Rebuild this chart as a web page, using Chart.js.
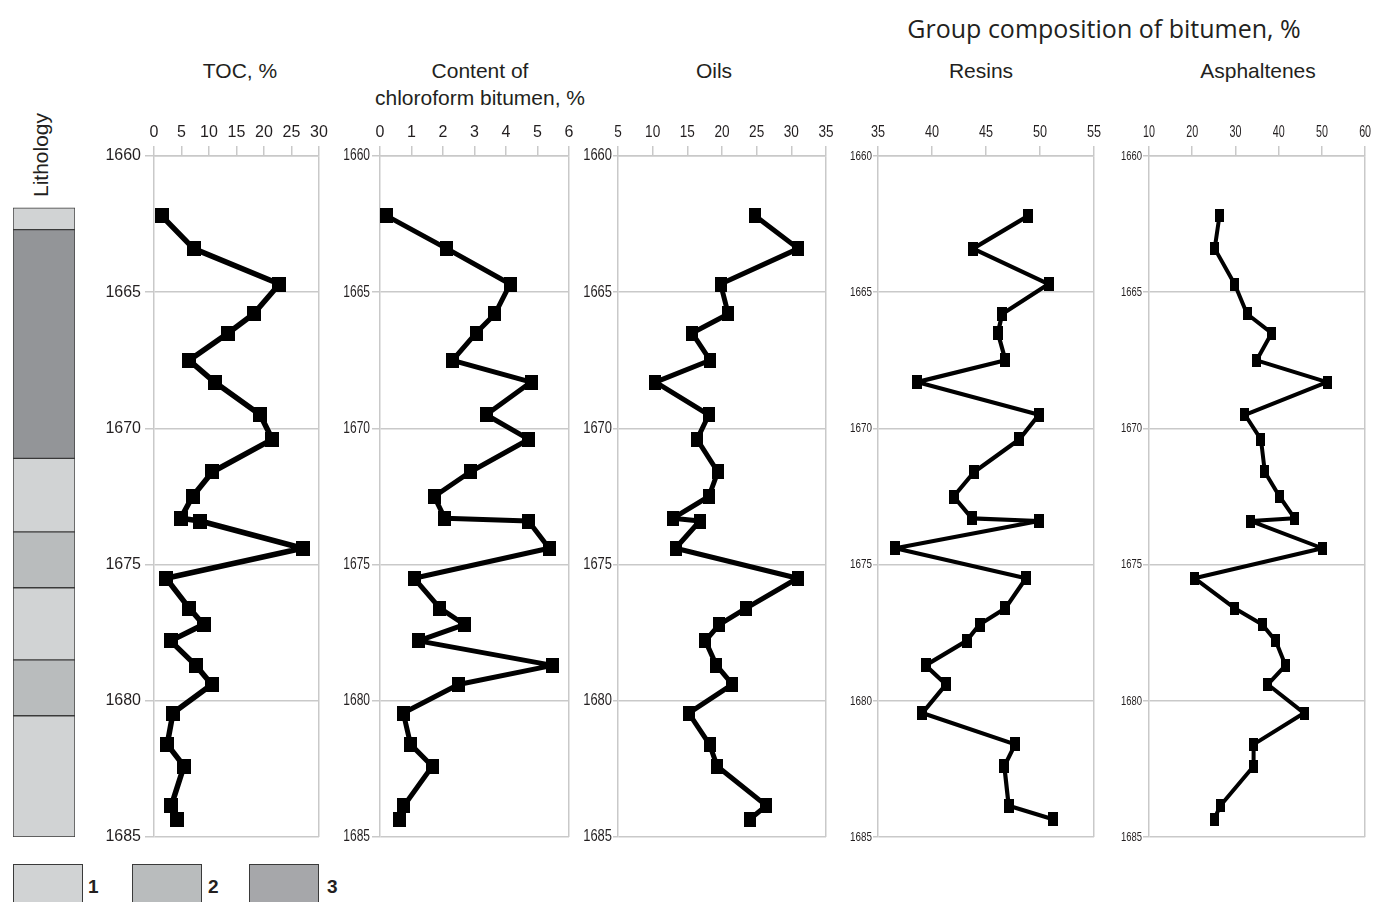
<!DOCTYPE html>
<html><head><meta charset="utf-8">
<script src="https://cdn.jsdelivr.net/npm/chart.js@4/dist/chart.umd.min.js"></script>
<style>
html,body{margin:0;padding:0;background:#fff;overflow:hidden;width:1373px;height:902px;}
body{position:relative;font-family:"Liberation Sans",Arial,sans-serif;color:#231f20;}
canvas{position:absolute;}
.t{position:absolute;white-space:nowrap;transform:translate(-50%,-50%);font-size:21px;line-height:27px;text-align:center;}
.hdr{position:absolute;white-space:nowrap;transform:translate(-50%,-50%);font-family:"Open Sans",sans-serif;font-size:25px;color:#231f20;}
.lith{position:absolute;white-space:nowrap;transform:translate(-50%,-50%) rotate(-90deg);font-size:21px;}
.lb{position:absolute;width:68px;height:40px;border:1.5px solid #3a3a3a;top:864px;}
.ll{position:absolute;font-weight:bold;font-size:19px;transform:translateY(-50%);top:887px;}
</style></head><body>
<div class="hdr" style="left:1104px;top:28px;">Group composition of bitumen, %</div>
<div class="t" style="left:240px;top:70px;">TOC, %</div>
<div class="t" style="left:480px;top:84px;">Content of<br>chloroform bitumen, %</div>
<div class="t" style="left:714px;top:70px;">Oils</div>
<div class="t" style="left:981px;top:70px;">Resins</div>
<div class="t" style="left:1258px;top:70px;">Asphaltenes</div>
<div class="lith" style="left:41px;top:155px;">Lithology</div>
<div class="lb" style="left:13px;background:#d1d3d4;"></div><div class="ll" style="left:88px;">1</div>
<div class="lb" style="left:132px;background:#b9bcbd;"></div><div class="ll" style="left:208px;">2</div>
<div class="lb" style="left:249px;background:#a6a7aa;"></div><div class="ll" style="left:327px;">3</div>

<canvas id="lit"></canvas>
<canvas id="c_toc"></canvas>
<canvas id="c_bit"></canvas>
<canvas id="c_oil"></canvas>
<canvas id="c_res"></canvas>
<canvas id="c_asp"></canvas>
<script>
// ---- data ----
const depth = [1662.2, 1663.4, 1664.7, 1665.8, 1666.5, 1667.5, 1668.3, 1669.5, 1670.4, 1671.6, 1672.5, 1673.3, 1673.4, 1674.4, 1675.5, 1676.6, 1677.2, 1677.8, 1678.7, 1679.4, 1680.45, 1681.6, 1682.4, 1683.85, 1684.35];
const toc = [1.4, 7.2, 22.8, 18.1, 13.5, 6.4, 11.0, 19.3, 21.5, 10.6, 7.0, 4.85, 8.4, 27.0, 2.2, 6.4, 9.0, 3.0, 7.6, 10.5, 3.45, 2.4, 5.45, 3.15, 4.25];
const bitumen = [0.21, 2.12, 4.13, 3.65, 3.05, 2.3, 4.8, 3.37, 4.73, 2.86, 1.72, 2.06, 4.71, 5.37, 1.08, 1.9, 2.68, 1.22, 5.48, 2.49, 0.74, 0.97, 1.66, 0.76, 0.63];
const oils = [24.8, 31.0, 19.8, 20.9, 15.7, 18.3, 10.4, 18.1, 16.4, 19.4, 18.1, 12.9, 16.8, 13.3, 30.9, 23.5, 19.6, 17.6, 19.2, 21.5, 15.2, 18.2, 19.3, 26.4, 24.0];
const resins = [48.9, 43.8, 50.8, 46.5, 46.1, 46.8, 38.6, 49.9, 48.1, 43.9, 42.0, 43.7, 49.9, 36.6, 48.7, 46.8, 44.4, 43.2, 39.4, 41.3, 39.1, 47.7, 46.7, 47.1, 51.2];
const asphaltenes = [26.3, 25.2, 29.8, 32.7, 38.4, 34.9, 51.2, 32.2, 35.9, 36.8, 40.2, 43.7, 33.6, 50.1, 20.5, 29.8, 36.2, 39.3, 41.6, 37.5, 45.9, 34.2, 34.2, 26.5, 25.1];
const depthTicks = [1660, 1665, 1670, 1675, 1680, 1685];
const litTop = [1661.9, 1662.7, 1671.1, 1673.8, 1675.85, 1678.5, 1680.55];
const litBottom = [1662.7, 1671.1, 1673.8, 1675.85, 1678.5, 1680.55, 1685];
const litType = [1, 3, 1, 2, 1, 2, 1];

// ---- styling ----
const FONT = '"Liberation Sans", Arial, sans-serif';
const GRID = '#c9c9c9';
const TXT = '#231f20';
const PLOT_TOP = 156, PLOT_BOTTOM = 837, XH = 40, PADB = 14;
const litColors = {1: '#d1d3d4', 2: '#b9bcbd', 3: '#939598'};

function marker(w, h) {
  const c = document.createElement('canvas');
  c.width = w; c.height = h;
  const g = c.getContext('2d');
  g.fillStyle = '#000'; g.fillRect(0, 0, w, h);
  return c;
}
function patchCtx(ctx, fy, fx) {
  const orig = ctx.fillText;
  ctx.fillText = function (text, x, y, maxW) {
    const s = String(text);
    let f = 1;
    if (/^\d{4}$/.test(s)) f = fy; else if (/^\d{1,2}$/.test(s)) f = fx;
    if (f < 1) return orig.call(this, s, x, y, this.measureText(s).width * f);
    if (maxW === undefined) return orig.call(this, s, x, y);
    return orig.call(this, s, x, y, maxW);
  };
}

// lithology column
(function () {
  const cv = document.getElementById('lit');
  cv.width = 66; cv.height = (PLOT_BOTTOM - PLOT_TOP) + 4;
  cv.style.left = '11px'; cv.style.top = (PLOT_TOP - 2) + 'px';
  new Chart(cv, {
    type: 'bar',
    data: {
      labels: ['L'],
      datasets: litTop.map((t, i) => ({
        data: [[t, litBottom[i]]],
        backgroundColor: litColors[litType[i]],
        borderColor: '#3a3a3a', borderWidth: 1, borderSkipped: false,
        barPercentage: 1, categoryPercentage: 1
      }))
    },
    options: {
      responsive: false, animation: false, events: [],
      layout: {padding: 2},
      plugins: {legend: {display: false}, tooltip: {enabled: false}},
      scales: {
        x: {display: false, stacked: true},
        y: {display: false, min: 1660, max: 1685, reverse: true}
      }
    }
  });
})();

const panels = [
  {id: 'c_toc', vals: toc, min: 0, max: 30, step: 5, L: 154, R: 319, yW: 60, padR: 16, yFont: 16, yTL: 9, yPad: 4, fy: 1, fx: 1, lw: 5.5, mw: 14, mh: 15},
  {id: 'c_bit', vals: bitumen, min: 0, max: 6, step: 1, L: 380, R: 569, yW: 50, padR: 14, yFont: 16, yTL: 8, yPad: 2, fy: 0.75, fx: 1, lw: 5, mw: 13, mh: 15},
  {id: 'c_oil', vals: oils, min: 5, max: 35, step: 5, L: 618, R: 826, yW: 45, padR: 14, yFont: 16, yTL: 5, yPad: 1, fy: 0.81, fx: 0.85, lw: 5, mw: 12, mh: 15},
  {id: 'c_res', vals: resins, min: 35, max: 55, step: 5, L: 878, R: 1094, yW: 40, padR: 14, yFont: 13.5, yTL: 5, yPad: 1, fy: 0.73, fx: 0.79, lw: 4.2, mw: 10, mh: 14},
  {id: 'c_asp', vals: asphaltenes, min: 10, max: 60, step: 10, L: 1149, R: 1368, yW: 40, padR: 10, yFont: 13.5, yTL: 6, yPad: 1, fy: 0.7, fx: 0.67, lw: 4, mw: 9, mh: 13}
];

panels.forEach(p => {
  const cv = document.getElementById(p.id);
  cv.width = p.yW + (p.R - p.L) + p.padR;
  cv.height = XH + (PLOT_BOTTOM - PLOT_TOP) + PADB;
  cv.style.left = (p.L - p.yW) + 'px';
  cv.style.top = (PLOT_TOP - XH) + 'px';
  patchCtx(cv.getContext('2d'), p.fy, p.fx);
  new Chart(cv, {
    type: 'scatter',
    data: {
      datasets: [{
        data: depth.map((d, i) => ({x: p.vals[i], y: d})),
        showLine: true,
        borderColor: '#000', borderWidth: p.lw, borderJoinStyle: 'round', borderCapStyle: 'round',
        pointStyle: marker(p.mw, p.mh), pointRadius: 6,
        clip: false
      }]
    },
    options: {
      responsive: false, animation: false, events: [],
      layout: {padding: {left: 0, top: 0, right: p.padR, bottom: PADB}},
      plugins: {legend: {display: false}, tooltip: {enabled: false}},
      scales: {
        x: {
          type: 'linear', position: 'top', min: p.min, max: p.max,
          ticks: {stepSize: p.step, padding: 4, maxRotation: 0, autoSkip: false, color: TXT, font: {family: FONT, size: 16}, callback: v => String(v)},
          grid: {drawOnChartArea: true, color: c => (c.tick && c.tick.value === p.max) ? GRID : 'rgba(0,0,0,0)', tickColor: GRID, tickLength: 10, lineWidth: 1.5},
          border: {display: true, color: GRID, width: 1.5},
          afterFit: s => { s.height = XH; }
        },
        y: {
          type: 'linear', reverse: true, min: 1660, max: 1685,
          afterBuildTicks: s => { s.ticks = depthTicks.map(v => ({value: v})); },
          ticks: {padding: p.yPad, color: TXT, font: {family: FONT, size: p.yFont}, callback: v => String(v)},
          grid: {color: GRID, tickColor: GRID, tickLength: p.yTL, lineWidth: 1.5},
          border: {display: true, color: GRID, width: 1.5},
          afterFit: s => { s.width = p.yW; }
        }
      }
    }
  });
});
</script>
</body></html>
